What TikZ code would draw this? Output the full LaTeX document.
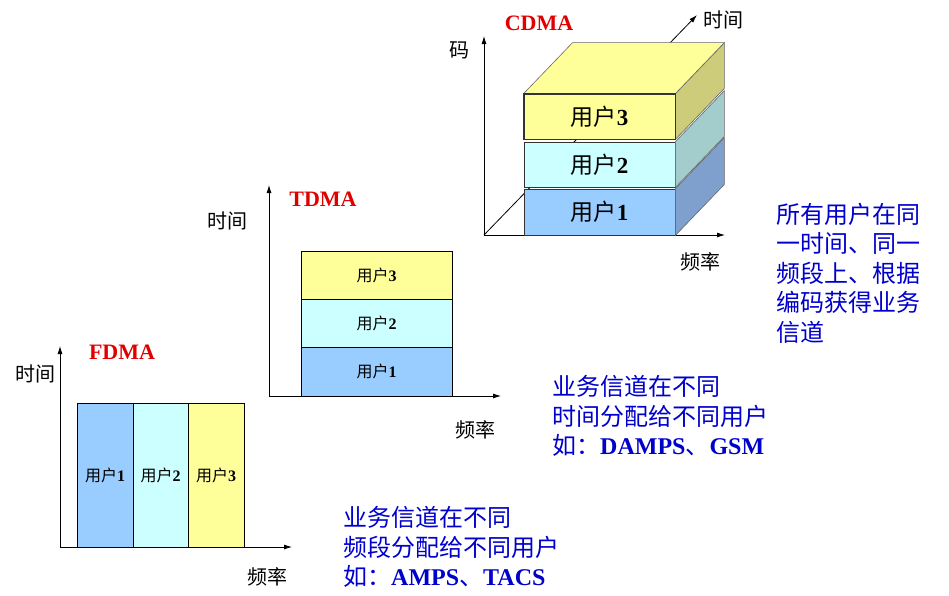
\documentclass[tikz,border=0pt]{standalone}
\usepackage{fontspec}
\setmainfont{Liberation Serif}
\newfontfamily\cjk{Noto Sans CJK SC}
\usetikzlibrary{arrows.meta,calc}
\definecolor{uone}{HTML}{99CCFF}
\definecolor{utwo}{HTML}{CCFFFF}
\definecolor{uthree}{HTML}{FFFF99}
\definecolor{sone}{HTML}{7F9FCC}
\definecolor{stwo}{HTML}{A3CCCC}
\definecolor{sthree}{HTML}{CCCC7A}
\definecolor{notec}{HTML}{0000CC}
\definecolor{ttlc}{HTML}{E00000}
\newcommand\uLab[1]{{\cjk 用户}\textbf{#1}}
\begin{document}
\begin{tikzpicture}[x=1pt,y=-1pt,
  axis/.style={line width=0.8pt,-{Latex[length=8pt,width=5pt]}},
  cell/.style={draw,line width=0.8pt,inner sep=0pt},
  smallcell/.style={cell,font=\fontsize{16}{16}\selectfont},
  bigcell/.style={cell,draw=black!80,font=\fontsize{23}{23}\selectfont},
  face/.style={draw=black!60,line width=0.6pt},
  axlab/.style={font=\cjk\fontsize{20}{20}\selectfont,inner sep=0pt},
  ttl/.style={text=ttlc,font=\bfseries\fontsize{22}{22}\selectfont,inner sep=0pt},
  note/.style={text=notec,align=left,anchor=west,inner sep=0pt,
    font=\cjk\fontsize{24}{29.5}\selectfont}]
\useasboundingbox (0,0) rectangle (949,595);

% ---------------- FDMA ----------------
\coordinate (fo) at (60,547);
\coordinate (fy) at (60,346);
\coordinate (fx) at (292,547);
\draw[axis] (fo) -- (fy);
\draw[axis] (fo) -- (fx);
\node[smallcell,fill=uone,minimum width=56pt,minimum height=144pt] (f1) at (105,475) {\uLab{1}};
\node[smallcell,fill=utwo,minimum width=55pt,minimum height=144pt] (f2) at (160.5,475) {\uLab{2}};
\node[smallcell,fill=uthree,minimum width=56pt,minimum height=144pt] (f3) at (216,475) {\uLab{3}};
\node[axlab] (fyl) at (35,374) {时间};
\node[axlab] (fxl) at (267,577) {频率};
\node[ttl] (ft) at (122,352) {FDMA};
\node[note] (fn) at (343,547) {业务信道在不同\\频段分配给不同用户\\如：{\rmfamily\bfseries AMPS}、{\rmfamily\bfseries TACS}};

% ---------------- TDMA ----------------
\coordinate (to) at (269,396);
\coordinate (ty) at (269,185);
\coordinate (tx) at (501,396);
\draw[axis] (to) -- (ty);
\draw[axis] (to) -- (tx);
\node[smallcell,fill=uone,minimum width=151pt,minimum height=49pt] (t1) at (376.5,371.5) {\uLab{1}};
\node[smallcell,fill=utwo,minimum width=151pt,minimum height=48pt] (t2) at (376.5,323) {\uLab{2}};
\node[smallcell,fill=uthree,minimum width=151pt,minimum height=48pt] (t3) at (376.5,275) {\uLab{3}};
\node[axlab] (tyl) at (227,221) {时间};
\node[axlab] (txl) at (475,430) {频率};
\node[ttl] (tt) at (323,199) {TDMA};
\node[note] (tn) at (552,416) {业务信道在不同\\时间分配给不同用户\\如：{\rmfamily\bfseries DAMPS}、{\rmfamily\bfseries GSM}};

% ---------------- CDMA ----------------
\coordinate (co) at (484,235);
\coordinate (cy) at (484,36);
\coordinate (cx) at (725,235);
\coordinate (cz) at (697,15);
\draw[axis] (co) -- (cy);
\draw[axis] (co) -- (cx);
\draw[axis] (co) -- (cz);
\node[bigcell,fill=uone,minimum width=151pt,minimum height=46pt] (c1) at (599.5,212) {\uLab{1}};
\node[bigcell,fill=utwo,minimum width=151pt,minimum height=45pt] (c2) at (599.5,164.5) {\uLab{2}};
\node[bigcell,fill=uthree,minimum width=151pt,minimum height=45pt] (c3) at (599.5,116.5) {\uLab{3}};
\foreach \n/\s in {c1/sone,c2/stwo,c3/sthree}{
  \draw[face,fill=\s] (\n.north east) -- ++(49,-51) -- ($(\n.south east)+(49,-51)$) -- (\n.south east) -- cycle;
}
\draw[face,fill=uthree] (c3.north west) -- ++(49,-51) -- ($(c3.north east)+(49,-51)$) -- (c3.north east) -- cycle;
\draw[line width=0.8pt,draw=black!80] (c3.north west) rectangle (c3.south east);
\node[axlab] (cyl) at (459,50) {码};
\node[axlab] (czl) at (723,20) {时间};
\node[axlab] (cxl) at (700,262) {频率};
\node[ttl] (ct) at (539,23) {CDMA};
\node[note] (cn) at (776,273) {所有用户在同\\一时间、同一\\频段上、根据\\编码获得业务\\信道};
\end{tikzpicture}
\end{document}
